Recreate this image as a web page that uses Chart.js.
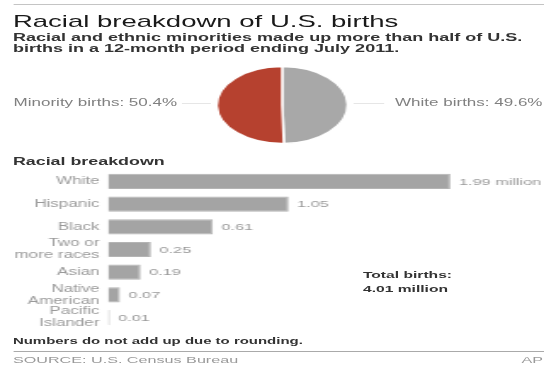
<!DOCTYPE html>
<html>
<head>
<meta charset="utf-8">
<script src="https://cdn.jsdelivr.net/npm/chart.js@4/dist/chart.umd.min.js"></script>
<style>
  html, body { margin:0; padding:0; background:#fff; width:556px; height:370px; overflow:hidden; }
  #wrap { position:absolute; left:0; top:0; width:327px; height:370px; transform:scaleX(1.7); transform-origin:0 0;
          font-family:'Liberation Sans', Arial, Helvetica, sans-serif; }
  .t { position:absolute; white-space:nowrap; line-height:1; }
  .hr { position:absolute; height:0; }
  canvas { position:absolute; }
</style>
</head>
<body>
<div id="wrap">
  <div class="hr" style="left:7.6px; width:312px; top:4px; border-top:1.5px solid #c4c4c4;"></div>
  <div class="t" style="left:7.6px; top:12.5px; font-size:16.2px; color:#1a1a1a;">Racial breakdown of U.S. births</div>
  <div class="t" style="left:7.6px; top:31.6px; font-size:10.6px; line-height:11.5px; font-weight:bold; color:#333;">Racial and ethnic minorities made up more than half of U.S.<br>births in a 12-month period ending July 2011.</div>

  <div class="t" id="pieLeft" style="left:8px; top:98px; font-size:10px; color:#808080;"></div>
  <div class="t" id="pieRight" style="left:232.4px; top:98px; font-size:10px; color:#808080;"></div>
  <div class="hr" style="left:106.5px; width:17px; top:103px; border-top:1px solid #e6e6e6;"></div>
  <div class="hr" style="left:208px; width:18px; top:103px; border-top:1px solid #e6e6e6;"></div>
  <canvas id="pie" width="84" height="84" style="left:124px; top:63px; width:84px; height:84px;"></canvas>

  <div class="t" style="left:7.6px; top:156.1px; font-size:10.5px; font-weight:bold; color:#333;">Racial breakdown</div>
  <canvas id="bar" width="327" height="190" style="left:0; top:153px; width:327px; height:190px;"></canvas>

  <div class="t" style="left:213.5px; top:268.4px; font-size:9.2px; line-height:14px; font-weight:bold; color:#333;" id="total"></div>

  <div class="t" style="left:7.6px; top:337.4px; font-size:8.8px; font-weight:bold; color:#333;">Numbers do not add up due to rounding.</div>
  <div class="hr" style="left:7.6px; width:312px; top:351px; border-top:1px solid #aaaaaa;"></div>
  <div class="t" style="left:7.6px; top:355px; font-size:9.5px; color:#9a9a9a;">SOURCE: U.S. Census Bureau</div>
  <div class="t" style="right:7.6px; top:355px; font-size:9.5px; color:#9a9a9a;">AP</div>
</div>
<script>
// ---- data ----
const pieLabels = ['White births', 'Minority births'];
const pieShares = [49.6, 50.4];
const pieColors = ['#a8a8a8', '#b6412f'];

const categories = [['White'], ['Hispanic'], ['Black'], ['Two or', 'more races'], ['Asian'], ['Native', 'American'], ['Pacific', 'Islander']];
const birthsMillions = [1.99, 1.05, 0.61, 0.25, 0.19, 0.07, 0.01];
const totalBirthsLabel = ['Total births:', '4.01 million'];

// ---- text built from data ----
document.getElementById('pieLeft').textContent = pieLabels[1] + ': ' + pieShares[1].toFixed(1) + '%';
document.getElementById('pieRight').textContent = pieLabels[0] + ': ' + pieShares[0].toFixed(1) + '%';
document.getElementById('total').innerHTML = totalBirthsLabel.join('<br>');

const FONT = "'Liberation Sans', Arial, Helvetica, sans-serif";
Chart.defaults.font.family = FONT;

// ---- pie ----
new Chart(document.getElementById('pie'), {
  type: 'pie',
  data: { labels: pieLabels, datasets: [{ data: pieShares, backgroundColor: pieColors, borderColor: '#ffffff', borderWidth: 1.5 }] },
  options: {
    responsive: false, animation: false, radius: 38.5,
    layout: { padding: 0 },
    plugins: { legend: { display: false }, tooltip: { enabled: false } }
  }
});

// ---- bars ----
const valueLabelPlugin = {
  id: 'valueLabels',
  afterDatasetsDraw(chart) {
    const ctx = chart.ctx;
    const meta = chart.getDatasetMeta(0);
    ctx.save();
    ctx.font = '9.6px ' + FONT;
    ctx.fillStyle = '#9a9a9a';
    ctx.textBaseline = 'middle';
    ctx.textAlign = 'left';
    meta.data.forEach((bar, i) => {
      const v = birthsMillions[i];
      const txt = v.toFixed(2) + (i === 0 ? ' million' : '');
      ctx.fillText(txt, bar.x + 5, bar.y + 0.5);
    });
    ctx.restore();
  }
};

new Chart(document.getElementById('bar'), {
  type: 'bar',
  data: { labels: categories, datasets: [{ data: birthsMillions, backgroundColor: '#a4a4a4', borderColor: '#b4b4b4', borderWidth: 1, barPercentage: 0.67, categoryPercentage: 1 }] },
  options: {
    indexAxis: 'y', responsive: false, animation: false,
    layout: { padding: { top: 14, bottom: 14, left: 0, right: 10.5 } },
    scales: {
      x: { display: false, min: 0, max: 2.5 },
      y: {
        grid: { display: false, drawTicks: false }, border: { display: false },
        ticks: { color: '#9a9a9a', font: { size: 10, lineHeight: 1.2 }, padding: 5, autoSkip: false },
        afterFit(scale) { scale.width = 63.5; }
      }
    },
    plugins: { legend: { display: false }, tooltip: { enabled: false } }
  },
  plugins: [valueLabelPlugin]
});
</script>
</body>
</html>
